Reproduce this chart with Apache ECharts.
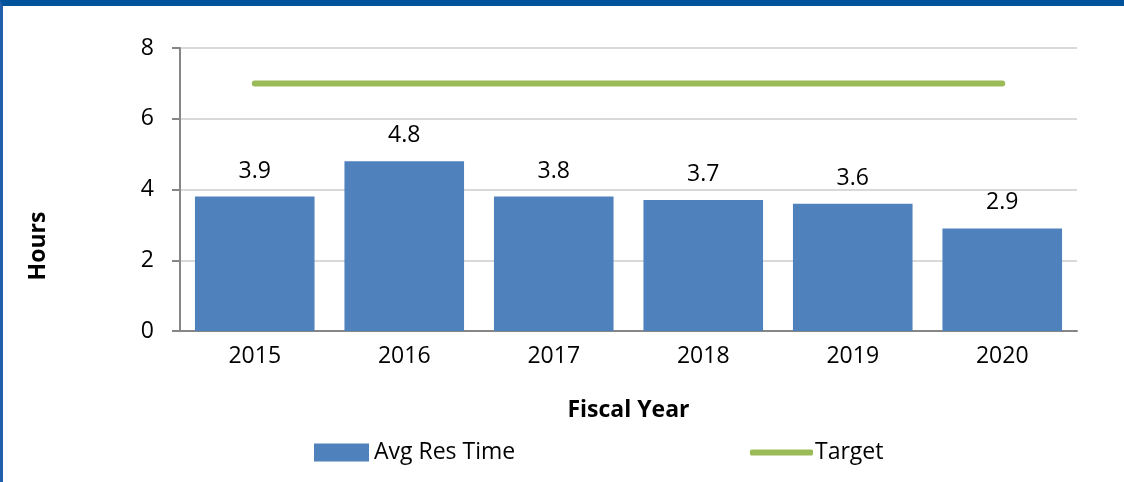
<!DOCTYPE html>
<html>
<head>
<meta charset="utf-8">
<script src="https://cdn.jsdelivr.net/npm/echarts@6/dist/echarts.min.js"></script>
<style>
  html, body { margin: 0; padding: 0; background: #fff; }
  #frame {
    position: absolute; left: 0; top: 0; width: 1124px; height: 482px;
    box-sizing: border-box; border-top: 6px solid #00539B; border-left: 3px solid #1F5FAD;
  }
  #app { position: absolute; left: 0; top: 0; width: 1124px; height: 482px; }
</style>
</head>
<body>
<div id="app"></div>
<div id="frame"></div>
<script>
const years = ["2015", "2016", "2017", "2018", "2019", "2020"];
// bar heights as drawn, and the labels printed above them
const avgResTime = [3.8, 4.8, 3.8, 3.7, 3.6, 2.9];
const avgResLabels = ["3.9", "4.8", "3.8", "3.7", "3.6", "2.9"];
const target = [7, 7, 7, 7, 7, 7];

const font = "'Open Sans', 'Noto Sans', sans-serif";
const fs = 23;
const myChart = echarts.init(document.getElementById("app"));

myChart.setOption({
  animation: false,
  textStyle: { fontFamily: font, color: "#000" },
  grid: { left: 180, right: 47, top: 48, bottom: 151 },
  legend: [
    {
      data: [{ name: "Avg Res Time", icon: "rect" }],
      left: 314, top: 441, padding: 0,
      itemWidth: 55, itemHeight: 18,
      textStyle: { fontSize: fs, fontFamily: font, color: "#000" }
    },
    {
      data: [{ name: "Target", icon: "roundRect" }],
      left: 750, top: 441, padding: 0,
      itemWidth: 63, itemHeight: 6,
      itemStyle: { color: "#9BBB59" },
      lineStyle: { width: 0 },
      textStyle: { fontSize: fs, fontFamily: font, color: "#000", padding: [0, 0, 0, -3] }
    }
  ],
  xAxis: {
    type: "category",
    data: years,
    name: "Fiscal Year",
    nameLocation: "middle",
    nameGap: 68,
    nameTextStyle: { fontSize: fs, fontWeight: "bold", fontFamily: font, color: "#000" },
    axisLine: { lineStyle: { color: "#868686", width: 2 } },
    axisTick: { length: 9, lineStyle: { color: "#868686", width: 2 } },
    axisLabel: { fontSize: fs, margin: 14, color: "#000", fontFamily: font }
  },
  yAxis: {
    type: "value",
    min: 0, max: 8, interval: 2,
    axisLine: { show: true, lineStyle: { color: "#868686", width: 2 } },
    axisTick: { show: true, length: 8, lineStyle: { color: "#868686", width: 2 } },
    axisLabel: { fontSize: fs, margin: 26, color: "#000", fontFamily: font },
    splitLine: { lineStyle: { color: "#D9D9D9", width: 2 } }
  },
  graphic: [
    {
      type: "text",
      x: 38, y: 246,
      rotation: Math.PI / 2,
      style: {
        text: "Hours", fontSize: fs, fontWeight: "bold", fontFamily: font,
        fill: "#000", align: "center", verticalAlign: "middle"
      }
    }
  ],
  series: [
    {
      name: "Avg Res Time",
      type: "bar",
      data: avgResTime,
      barCategoryGap: "20%",
      itemStyle: { color: "#4F81BD" },
      label: {
        show: true, position: "top", distance: 14,
        fontSize: fs, color: "#000", fontFamily: font,
        formatter: (p) => avgResLabels[p.dataIndex]
      }
    },
    {
      name: "Target",
      type: "line",
      data: target,
      symbol: "none",
      lineStyle: { color: "#9BBB59", width: 6, cap: "round" },
      itemStyle: { color: "#9BBB59" }
    }
  ]
});
</script>
</body>
</html>
